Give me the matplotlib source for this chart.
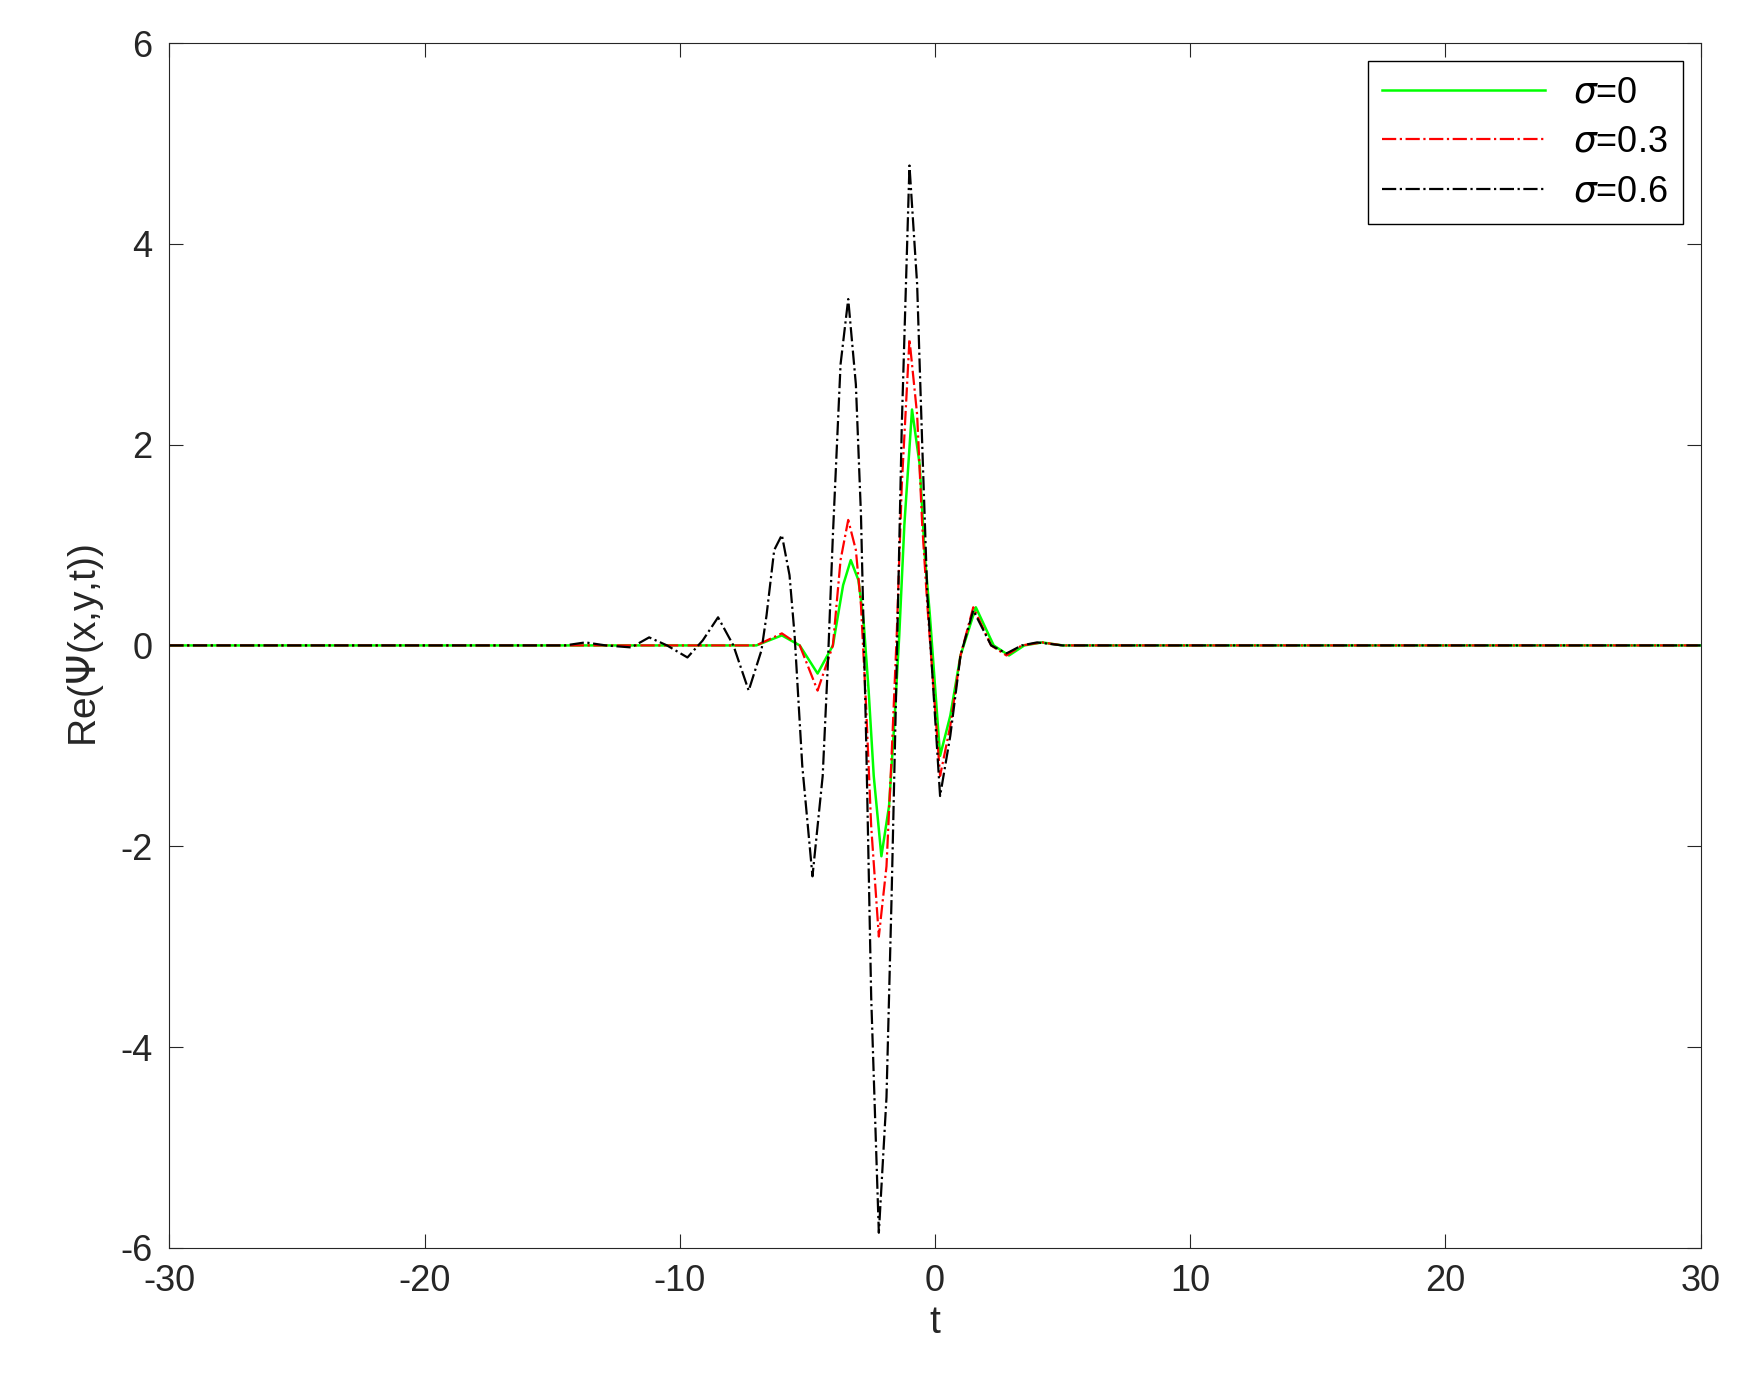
import matplotlib
matplotlib.use("Agg")
import matplotlib.pyplot as plt

plt.rcParams['font.family'] = ['Liberation Sans', 'DejaVu Sans']
plt.rcParams['axes.unicode_minus'] = False

t_black = [-30,-14.5,-13.7,-12.9,-11.9,-11.2,-10.5,-9.7,-9.1,-8.5,-7.9,-7.3,-6.8,-6.6,-6.3,-6.0,-5.7,-5.5,-5.2,-4.8,-4.4,-4.2,-4.0,-3.7,-3.4,-3.1,-2.9,-2.7,-2.5,-2.2,-1.9,-1.7,-1.5,-1.3,-1.0,-0.7,-0.5,-0.3,0.2,0.6,1.0,1.5,2.2,2.8,3.4,4.0,5,30]
y_black = [0,0,0.03,0,-0.02,0.08,0,-0.12,0.05,0.28,0,-0.45,-0.05,0.3,0.95,1.1,0.7,0.1,-1.2,-2.3,-1.3,-0.2,1.1,2.8,3.45,2.6,1.3,-0.9,-3.5,-5.85,-4.5,-2.5,-0.2,2.2,4.78,3.6,2.0,0.5,-1.5,-0.9,-0.1,0.35,0,-0.08,0,0.03,0,0]

t_red = [-30,-7,-6.0,-5.3,-4.6,-4.0,-3.7,-3.4,-3.1,-2.9,-2.7,-2.5,-2.2,-1.9,-1.7,-1.5,-1.3,-1.0,-0.7,-0.5,-0.3,0.2,0.6,1.0,1.5,2.2,2.8,3.4,4.2,5,30]
y_red = [0,0,0.12,0,-0.45,0,0.85,1.25,0.95,0.4,-0.6,-1.8,-2.9,-2.2,-1.1,0.1,1.6,3.05,2.3,1.2,0.4,-1.3,-0.8,-0.1,0.38,0,-0.1,0,0.03,0,0]

t_green = [-30,-7,-6.0,-5.3,-4.6,-4.0,-3.6,-3.3,-3.0,-2.8,-2.6,-2.4,-2.1,-1.8,-1.6,-1.4,-1.2,-0.9,-0.6,-0.4,-0.2,0.2,0.6,1.0,1.6,2.3,2.9,3.5,4.2,5,30]
y_green = [0,0,0.1,0,-0.28,0,0.6,0.85,0.65,0.25,-0.45,-1.3,-2.1,-1.6,-0.8,0.1,1.2,2.35,1.8,0.9,0.3,-1.1,-0.7,-0.1,0.38,0,-0.1,0,0.03,0,0]

fig = plt.figure(figsize=(17.46, 13.88), dpi=100)
ax = fig.add_axes([0.097, 0.101, 0.877, 0.868])
ax.plot(t_green, y_green, color='#00ff00', lw=1.8, label=r'$\sigma$=0')
ax.plot(t_red, y_red, color='red', lw=1.6, ls='-.', label=r'$\sigma$=0.3')
ax.plot(t_black, y_black, color='black', lw=1.6, ls='-.', label=r'$\sigma$=0.6')
ax.set_xlim(-30, 30)
ax.set_ylim(-6, 6)
ax.set_xticks(range(-30, 31, 10))
ax.set_yticks(range(-6, 7, 2))
ax.tick_params(labelsize=26, colors='#262626', direction='in', length=10, top=True, right=True, pad=12)
ax.set_xlabel('t', fontsize=28, color='#262626', labelpad=4)
ax.set_ylabel(r'Re($\Psi$(x,y,t))', fontsize=28, color='#262626', labelpad=10)
for s in ax.spines.values():
    s.set_color('#262626')
leg = ax.legend(loc='upper right', fontsize=26, fancybox=False, edgecolor='black', handlelength=4.5,
                borderaxespad=0.5, labelspacing=0.4, framealpha=1)
fig.savefig('out.png', dpi=100)
